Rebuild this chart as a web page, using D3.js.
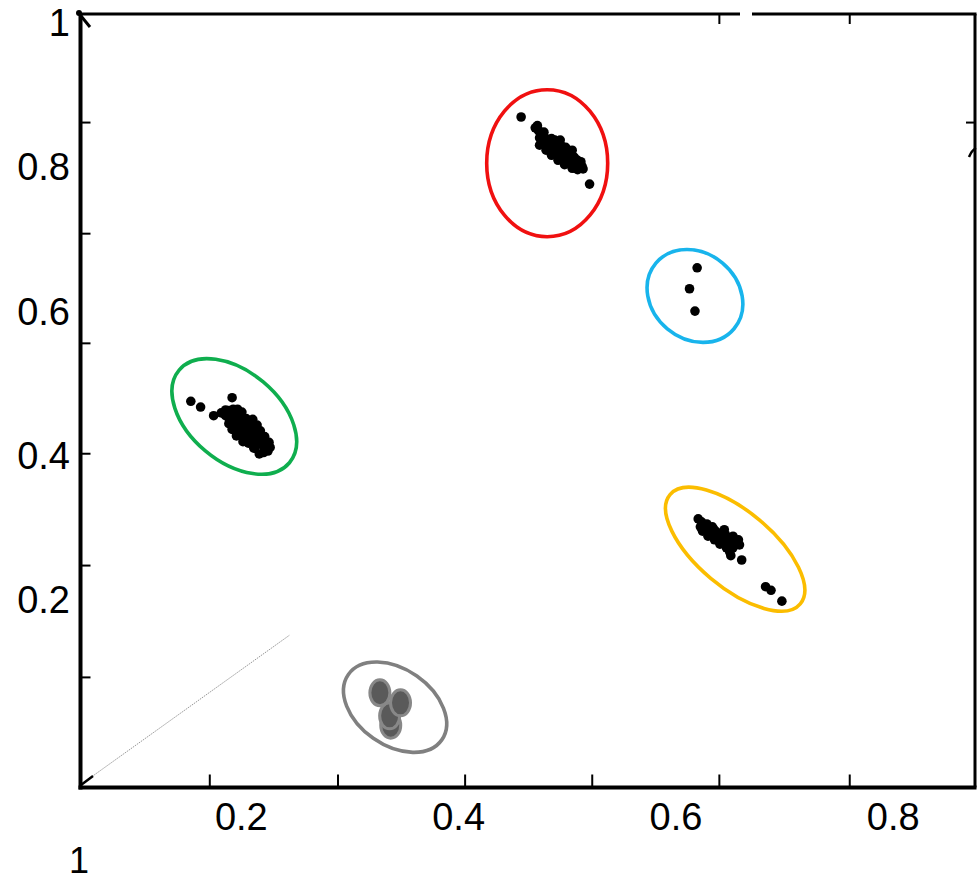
<!DOCTYPE html>
<html>
<head>
<meta charset="utf-8">
<script src="https://cdn.jsdelivr.net/npm/d3@7/dist/d3.min.js"></script>
<style>
  html, body { margin: 0; padding: 0; background: #fff; }
  svg { display: block; }
  text { font-family: "Liberation Sans", Arial, sans-serif; }
</style>
</head>
<body>
<svg id="chart" width="979" height="882"></svg>
<script>
// ---------- data ----------
const xLabels = [0.2, 0.4, 0.6, 0.8];
const yLabels = [0.2, 0.4, 0.6, 0.8, 1];
const xTickMarks = [0.171, 0.289, 0.406, 0.523, 0.640, 0.760];
const yTickMarks = [0.862, 0.708, 0.556, 0.403, 0.248, 0.093];
const topTickMarks = [0.640, 0.760];
const rightTickMarks = [0.862];

const redPoints = [
  [0.458,0.869],[0.471,0.854],[0.474,0.850],[0.476,0.845],[0.478,0.841],[0.481,0.839],
  [0.484,0.836],[0.486,0.832],[0.487,0.829],[0.490,0.826],[0.492,0.823],[0.495,0.821],
  [0.497,0.818],[0.499,0.815],[0.502,0.812],[0.504,0.809],[0.507,0.807],[0.509,0.804],
  [0.511,0.805],[0.514,0.801],[0.515,0.797],[0.508,0.798],[0.501,0.807],[0.494,0.814],
  [0.489,0.821],[0.483,0.829],[0.480,0.833],[0.475,0.840],[0.486,0.839],[0.498,0.823],
  [0.505,0.816],[0.510,0.809],[0.521,0.776],
  [0.473,0.857],[0.479,0.848],[0.489,0.837],[0.492,0.834],[0.496,0.828],[0.500,0.822],
  [0.503,0.818],[0.507,0.813],[0.513,0.807],[0.485,0.825],[0.491,0.818],[0.497,0.812],
  [0.503,0.804],[0.511,0.799],[0.477,0.836],
  [0.475,0.830],[0.481,0.823],[0.486,0.816],[0.492,0.809],[0.498,0.803],[0.505,0.798],
  [0.510,0.796],[0.494,0.837],[0.499,0.827],[0.505,0.823]
];
const bluePoints = [[0.620,0.660],[0.613,0.631],[0.618,0.600]];
const greenPoints = [
  [0.154,0.475],[0.163,0.467],[0.175,0.455],[0.192,0.480],[0.182,0.459],[0.186,0.463],
  [0.189,0.462],[0.193,0.464],[0.197,0.464],[0.186,0.455],[0.191,0.455],[0.196,0.457],
  [0.199,0.459],[0.193,0.448],[0.197,0.451],[0.201,0.452],[0.196,0.442],[0.200,0.444],
  [0.204,0.446],[0.199,0.435],[0.204,0.438],[0.208,0.441],[0.203,0.430],[0.207,0.432],
  [0.210,0.435],[0.206,0.424],[0.210,0.426],[0.213,0.430],[0.209,0.419],[0.213,0.420],
  [0.217,0.424],[0.214,0.413],[0.220,0.416],[0.222,0.410],[0.225,0.406],[0.217,0.402],
  [0.220,0.421],
  [0.185,0.460],[0.190,0.461],[0.201,0.460],[0.189,0.452],[0.205,0.451],[0.211,0.450],
  [0.189,0.444],[0.194,0.443],[0.209,0.445],[0.215,0.442],[0.192,0.436],[0.198,0.434],
  [0.213,0.437],[0.218,0.434],[0.196,0.427],[0.201,0.426],[0.216,0.429],[0.222,0.426],
  [0.202,0.419],[0.207,0.417],[0.221,0.420],[0.226,0.418],[0.212,0.410],[0.227,0.411],
  [0.221,0.404]
];
const yellowPoints = [
  [0.621,0.312],[0.624,0.308],[0.626,0.304],[0.623,0.301],[0.628,0.299],[0.631,0.297],
  [0.635,0.298],[0.637,0.295],[0.640,0.292],[0.634,0.291],[0.630,0.292],[0.643,0.288],
  [0.646,0.290],[0.648,0.286],[0.637,0.287],[0.641,0.283],[0.645,0.280],[0.651,0.281],
  [0.655,0.279],[0.659,0.276],[0.648,0.276],[0.653,0.272],[0.651,0.261],[0.661,0.255],
  [0.683,0.218],[0.688,0.213],[0.698,0.198],
  [0.625,0.300],[0.633,0.294],[0.639,0.289],[0.644,0.284],[0.650,0.284],[0.652,0.278],
  [0.657,0.282],[0.644,0.292],[0.629,0.305],
  [0.630,0.288],[0.636,0.283],[0.641,0.277],[0.647,0.272],[0.650,0.266],[0.634,0.301],
  [0.645,0.297],[0.653,0.288],[0.658,0.283],[0.625,0.295]
];
const grayPoints = [[0.338,0.026],[0.337,0.039],[0.328,0.071],[0.347,0.057]];

// cluster ellipses: centre (data units), semi-axes a,b (px), rotation (deg)
const clusterNames   = ["red", "blue", "green", "yellow", "gray"];
const clusterCenters = [[0.482,0.805],[0.618,0.621],[0.194,0.454],[0.655,0.270],[0.342,0.051]];
const clusterAxes    = [[60.5,73.5],[51,43],[72,45],[85,38],[57,38]];
const clusterAngles  = [0, 40, 40, 40, 35];
const clusterColors  = ["#f01010", "#18b4ec", "#0fae4e", "#fbbd00", "#808080"];

const diagLine = [[0.052,-0.057],[0.245,0.151]];

// ---------- layout ----------
const svg = d3.select("#chart");
const frame = {left: 80.5, right: 975, top: 14, bottom: 787.5};
const xScale = d3.scaleLinear().domain([0, 1]).range([23.5, 1110]);
const yScale = d3.scaleLinear().domain([0, 1]).range([744, 22.5]);

// faint diagonal line
svg.append("line")
  .attr("x1", xScale(diagLine[0][0])).attr("y1", yScale(diagLine[0][1]))
  .attr("x2", xScale(diagLine[1][0])).attr("y2", yScale(diagLine[1][1]))
  .attr("stroke", "#8a8a8a").attr("stroke-width", 0.9)
  .attr("stroke-dasharray", "1.5,1");

// ellipses
clusterNames.forEach((n, i) => {
  const [cx, cy] = clusterCenters[i];
  svg.append("ellipse")
    .attr("cx", 0).attr("cy", 0)
    .attr("rx", clusterAxes[i][0]).attr("ry", clusterAxes[i][1])
    .attr("transform", `translate(${xScale(cx)},${yScale(cy)}) rotate(${clusterAngles[i]})`)
    .attr("fill", "none")
    .attr("stroke", clusterColors[i])
    .attr("stroke-width", 3.6);
});

// black points
const blackSets = [redPoints, bluePoints, greenPoints, yellowPoints];
blackSets.forEach(set => {
  svg.append("g").selectAll("circle").data(set).join("circle")
    .attr("cx", d => xScale(d[0]))
    .attr("cy", d => yScale(d[1]))
    .attr("r", 4.8)
    .attr("fill", "#000");
});

// gray big markers
svg.append("g").selectAll("ellipse").data(grayPoints).join("ellipse")
  .attr("cx", d => xScale(d[0]))
  .attr("cy", d => yScale(d[1]))
  .attr("rx", 10).attr("ry", 13)
  .attr("fill", "#5a5a5a")
  .attr("stroke", "#888")
  .attr("stroke-width", 3);

// frame
svg.append("line").attr("x1", frame.left).attr("x2", frame.left)
  .attr("y1", frame.top - 1).attr("y2", frame.bottom + 2)
  .attr("stroke", "#000").attr("stroke-width", 4);
svg.append("line").attr("x1", frame.left - 2).attr("x2", frame.right + 1.5)
  .attr("y1", frame.bottom).attr("y2", frame.bottom)
  .attr("stroke", "#000").attr("stroke-width", 4);
svg.append("line").attr("x1", frame.left).attr("x2", frame.right + 1.5)
  .attr("y1", frame.top).attr("y2", frame.top)
  .attr("stroke", "#000").attr("stroke-width", 3);
svg.append("line").attr("x1", frame.right).attr("x2", frame.right)
  .attr("y1", frame.top).attr("y2", frame.bottom)
  .attr("stroke", "#000").attr("stroke-width", 3);

// gap in top border
svg.append("path")
  .attr("d", `M740,${frame.top} L752,${frame.top}`)
  .attr("stroke", "#fff").attr("stroke-width", 5);

// tick marks
function styleTicks(g) {
  g.select(".domain").remove();
  g.selectAll("text").remove();
  g.selectAll(".tick line").attr("stroke", "#000").attr("stroke-width", 2);
}
svg.append("g").attr("transform", `translate(0,${frame.bottom - 1})`)
  .call(d3.axisBottom(xScale).tickValues(xTickMarks).tickSize(-12)).call(styleTicks);
svg.append("g").attr("transform", `translate(0,${frame.top})`)
  .call(d3.axisTop(xScale).tickValues(topTickMarks).tickSize(-10)).call(styleTicks);
svg.append("g").attr("transform", `translate(${frame.left + 1},0)`)
  .call(d3.axisLeft(yScale).tickValues(yTickMarks).tickSize(-9)).call(styleTicks);
svg.append("g").attr("transform", `translate(${frame.right},0)`)
  .call(d3.axisRight(yScale).tickValues(rightTickMarks).tickSize(-9)).call(styleTicks);

// corner decorations
svg.append("circle").attr("cx", 79).attr("cy", 13).attr("r", 3).attr("fill", "#000");
svg.append("path").attr("d", "M81,16 L90,27").attr("stroke", "#000").attr("stroke-width", 3);
svg.append("path").attr("d", "M81,785 L93,776").attr("stroke", "#000").attr("stroke-width", 2.5);
svg.append("path").attr("d", "M969,157 Q972,150 976,148").attr("fill", "none")
  .attr("stroke", "#000").attr("stroke-width", 2.5);

// labels
function styleLabels(g) {
  g.select(".domain").remove();
  g.selectAll(".tick line").remove();
  g.selectAll("text").attr("font-size", 38).attr("fill", "#000")
    .attr("font-family", '"Liberation Sans", Arial, sans-serif');
}
svg.append("g").attr("transform", "translate(0,803)")
  .call(d3.axisBottom(xScale).tickValues(xLabels).tickSize(0).tickPadding(0)
    .tickFormat(d => String(d)))
  .call(styleLabels);
svg.append("g").attr("transform", "translate(70,1)")
  .call(d3.axisLeft(yScale).tickValues(yLabels).tickSize(0).tickPadding(0)
    .tickFormat(d => String(d)))
  .call(styleLabels);

// stray label at bottom left
svg.append("text").attr("x", 89).attr("y", 873).attr("text-anchor", "end")
  .attr("font-size", 36).attr("fill", "#000").text("1");
</script>
</body>
</html>
